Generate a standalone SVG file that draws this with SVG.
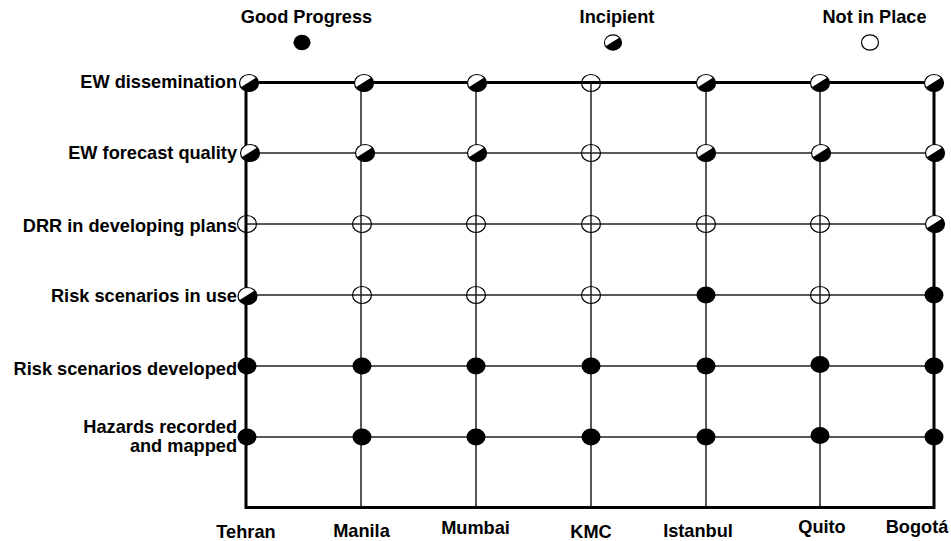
<svg xmlns="http://www.w3.org/2000/svg" xmlns:xlink="http://www.w3.org/1999/xlink" width="951" height="541" viewBox="0 0 951 541">
<style>
text{font-family:"Liberation Sans",Arial,sans-serif;font-weight:bold;font-size:18.2px;fill:#000}
.rl{text-anchor:end}
.cl{text-anchor:middle}
.grid{stroke:#222;stroke-width:1.5;fill:none}
.frame{stroke:#000;stroke-width:3;fill:none}
</style>
<defs>
<ellipse id="good" rx="9.5" ry="8.5" fill="#000"/>
<ellipse id="none" rx="9.5" ry="8.5" fill="none" stroke="#000" stroke-width="1.2"/>
<g id="inc">
<ellipse rx="9.5" ry="8.5" fill="#fff" stroke="#000" stroke-width="1.2"/>
<path d="M-8.23,4.25 L7.28,-5.46 A9.5,8.5 0 1 1 -8.23,4.25 Z" fill="#000"/>
</g>
</defs>
<rect width="951" height="541" fill="#fff"/>

<g id="legend">
<text class="cl" x="306.5" y="23">Good Progress</text>
<use xlink:href="#good" href="#good" transform="translate(302,42.5) scale(0.9)"/>
<text class="cl" x="617" y="23">Incipient</text>
<use xlink:href="#inc" href="#inc" transform="translate(613,42.5) scale(0.9)"/>
<text class="cl" x="874.5" y="23">Not in Place</text>
<ellipse cx="870" cy="42.5" rx="8.5" ry="7.7" fill="#fff" stroke="#000" stroke-width="1.2"/>
</g>

<g id="connectors">
<path class="grid" d="M246,153H934M246,224H934M246,295H934M246,366H934M246,437H934"/>
<path class="grid" d="M361,82.5V507.5M476,82.5V507.5M591,82.5V507.5M706,82.5V507.5M820,82.5V507.5"/>
<rect class="frame" x="246" y="82.5" width="688" height="425"/>
</g>

<g id="row-labels">
<text class="rl" x="237" y="88">EW dissemination</text>
<text class="rl" x="237" y="159">EW forecast quality</text>
<text class="rl" x="237" y="231.5">DRR in developing plans</text>
<text class="rl" x="237" y="301.5">Risk scenarios in use</text>
<text class="rl" x="237" y="375">Risk scenarios developed</text>
<text class="rl" x="237" y="433">Hazards recorded</text>
<text class="rl" x="237" y="451.5">and mapped</text>
</g>

<g id="column-labels">
<text class="cl" x="246" y="538">Tehran</text>
<text class="cl" x="361.5" y="537">Manila</text>
<text class="cl" x="475.5" y="534">Mumbai</text>
<text class="cl" x="591" y="538">KMC</text>
<text class="cl" x="698" y="537">Istanbul</text>
<text class="cl" x="822" y="533">Quito</text>
<text class="cl" x="917" y="533">Bogotá</text>
</g>

<g id="row-ew-dissemination">
<use id="c00" href="#inc" xlink:href="#inc" x="249" y="83"/>
<use id="c01" href="#inc" xlink:href="#inc" x="364" y="83"/>
<use id="c02" href="#inc" xlink:href="#inc" x="477" y="83"/>
<use id="c03" href="#none" xlink:href="#none" x="591" y="83"/>
<use id="c04" href="#inc" xlink:href="#inc" x="706" y="83"/>
<use id="c05" href="#inc" xlink:href="#inc" x="820" y="83"/>
<use id="c06" href="#inc" xlink:href="#inc" x="934" y="83"/>
</g>
<g id="row-ew-forecast">
<use id="c10" href="#inc" xlink:href="#inc" x="250" y="153"/>
<use id="c11" href="#inc" xlink:href="#inc" x="365" y="153"/>
<use id="c12" href="#inc" xlink:href="#inc" x="477" y="153"/>
<use id="c13" href="#none" xlink:href="#none" x="591" y="153"/>
<use id="c14" href="#inc" xlink:href="#inc" x="706" y="153"/>
<use id="c15" href="#inc" xlink:href="#inc" x="821" y="153"/>
<use id="c16" href="#inc" xlink:href="#inc" x="935" y="153"/>
</g>
<g id="row-drr">
<use id="c20" href="#none" xlink:href="#none" x="247" y="224"/>
<use id="c21" href="#none" xlink:href="#none" x="362" y="224"/>
<use id="c22" href="#none" xlink:href="#none" x="476" y="224"/>
<use id="c23" href="#none" xlink:href="#none" x="591" y="224"/>
<use id="c24" href="#none" xlink:href="#none" x="706" y="224"/>
<use id="c25" href="#none" xlink:href="#none" x="820" y="224"/>
<use id="c26" href="#inc" xlink:href="#inc" x="935" y="224"/>
</g>
<g id="row-risk-use">
<use id="c30" href="#inc" xlink:href="#inc" x="247.5" y="296"/>
<use id="c31" href="#none" xlink:href="#none" x="362" y="295"/>
<use id="c32" href="#none" xlink:href="#none" x="476" y="295"/>
<use id="c33" href="#none" xlink:href="#none" x="591" y="295"/>
<use id="c34" href="#good" xlink:href="#good" x="706" y="295"/>
<use id="c35" href="#none" xlink:href="#none" x="820" y="295"/>
<use id="c36" href="#good" xlink:href="#good" x="934" y="295"/>
</g>
<g id="row-risk-developed">
<use id="c40" href="#good" xlink:href="#good" x="247" y="366"/>
<use id="c41" href="#good" xlink:href="#good" x="362" y="366"/>
<use id="c42" href="#good" xlink:href="#good" x="476" y="366"/>
<use id="c43" href="#good" xlink:href="#good" x="591" y="366"/>
<use id="c44" href="#good" xlink:href="#good" x="706" y="366"/>
<use id="c45" href="#good" xlink:href="#good" x="820" y="364.5"/>
<use id="c46" href="#good" xlink:href="#good" x="934" y="366"/>
</g>
<g id="row-hazards">
<use id="c50" href="#good" xlink:href="#good" x="247" y="437"/>
<use id="c51" href="#good" xlink:href="#good" x="362" y="437"/>
<use id="c52" href="#good" xlink:href="#good" x="476" y="437"/>
<use id="c53" href="#good" xlink:href="#good" x="591" y="437"/>
<use id="c54" href="#good" xlink:href="#good" x="706" y="437"/>
<use id="c55" href="#good" xlink:href="#good" x="820" y="435.5"/>
<use id="c56" href="#good" xlink:href="#good" x="934" y="437"/>
</g>
</svg>
